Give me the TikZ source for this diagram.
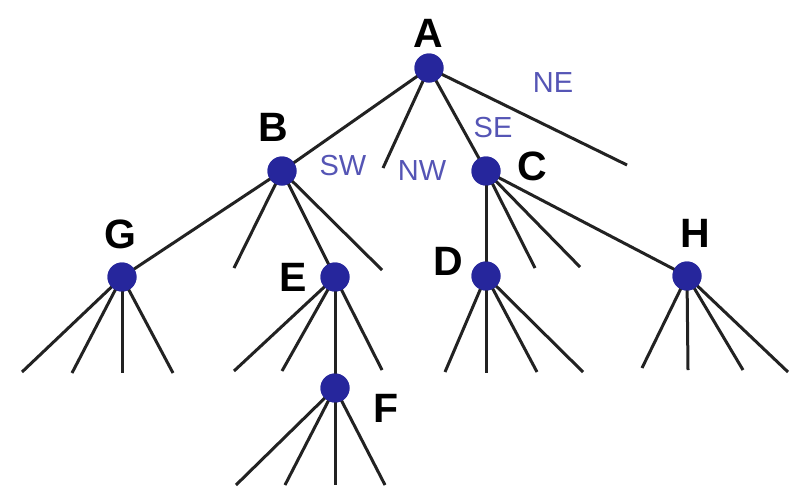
\documentclass[tikz,border=0pt]{standalone}
\usepackage{fontspec}
\setmainfont{Liberation Sans}
\begin{document}
\begin{tikzpicture}[x=1pt,y=-1pt,
  dot/.style={circle,fill=dotblue,inner sep=0pt,minimum size=29pt},
  edge/.style={line width=3pt,draw=linegray},
  letter/.style={font=\fontsize{41}{41}\selectfont\bfseries,text=black,inner sep=0pt},
  dirlab/.style={font=\fontsize{29}{29}\selectfont,text=labblue,inner sep=0pt}]
\definecolor{dotblue}{HTML}{26269C}
\definecolor{linegray}{HTML}{222222}
\definecolor{labblue}{HTML}{5555B5}
\useasboundingbox[fill=white] (0,0) rectangle (794,493);
% nodes
\node[dot] (A) at (429,68) {};
\node[dot] (B) at (282,171) {};
\node[dot] (C) at (486,171) {};
\node[dot] (G) at (122,277) {};
\node[dot] (E) at (335,277) {};
\node[dot] (F) at (335,388) {};
\node[dot] (D) at (486,276) {};
\node[dot] (H) at (687,276) {};
% free ends
\coordinate (aNW) at (383,168);
\coordinate (aNE) at (627,165);
\coordinate (b2) at (234,268);
\coordinate (b4) at (382,270);
\coordinate (g1) at (22,372);
\coordinate (g2) at (72,373);
\coordinate (g3) at (122,373);
\coordinate (g4) at (173,373);
\coordinate (e1) at (234,371);
\coordinate (e2) at (282,371);
\coordinate (e4) at (382,370);
\coordinate (f1) at (236,485);
\coordinate (f2) at (285,485);
\coordinate (f3) at (335,485);
\coordinate (f4) at (385,485);
\coordinate (c2) at (535,268);
\coordinate (c3) at (580,267);
\coordinate (d1) at (445,372);
\coordinate (d3) at (537,372);
\coordinate (d4) at (583,372);
\coordinate (d2) at (486,373);
\coordinate (h1) at (642,368);
\coordinate (h2) at (688,370);
\coordinate (h3) at (743,370);
\coordinate (h4) at (788,372);
% edges
\draw[edge] (A.center) -- (B.center);
\draw[edge] (A.center) -- (aNW);
\draw[edge] (A.center) -- (C.center);
\draw[edge] (A.center) -- (aNE);
\draw[edge] (B.center) -- (G.center);
\draw[edge] (B.center) -- (b2);
\draw[edge] (B.center) -- (E.center);
\draw[edge] (B.center) -- (b4);
\draw[edge] (G.center) -- (g1);
\draw[edge] (G.center) -- (g2);
\draw[edge] (G.center) -- (g3);
\draw[edge] (G.center) -- (g4);
\draw[edge] (E.center) -- (e1);
\draw[edge] (E.center) -- (e2);
\draw[edge] (E.center) -- (F.center);
\draw[edge] (E.center) -- (e4);
\draw[edge] (F.center) -- (f1);
\draw[edge] (F.center) -- (f2);
\draw[edge] (F.center) -- (f3);
\draw[edge] (F.center) -- (f4);
\draw[edge] (C.center) -- (D.center);
\draw[edge] (C.center) -- (c2);
\draw[edge] (C.center) -- (c3);
\draw[edge] (C.center) -- (H.center);
\draw[edge] (D.center) -- (d1);
\draw[edge] (D.center) -- (d2);
\draw[edge] (D.center) -- (d3);
\draw[edge] (D.center) -- (d4);
\draw[edge] (H.center) -- (h1);
\draw[edge] (H.center) -- (h2);
\draw[edge] (H.center) -- (h3);
\draw[edge] (H.center) -- (h4);
% redraw dots on top
\foreach \n in {A,B,C,G,E,F,D,H} \fill[dotblue] (\n) circle (14.5pt);
% letters
\node[letter] (lA) at (428,33) {A};
\node[letter] (lB) at (273,127) {B};
\node[letter] (lC) at (532,166) {C};
\node[letter] (lG) at (120,234) {G};
\node[letter] (lE) at (293,277) {E};
\node[letter] (lF) at (386,408) {F};
\node[letter] (lD) at (448,261) {D};
\node[letter] (lH) at (695,233) {H};
% direction labels
\node[dirlab] (lSW) at (343,166) {SW};
\node[dirlab] (lNW) at (422,171) {NW};
\node[dirlab] (lSE) at (493,128) {SE};
\node[dirlab] (lNE) at (553,83) {NE};
\end{tikzpicture}
\end{document}
